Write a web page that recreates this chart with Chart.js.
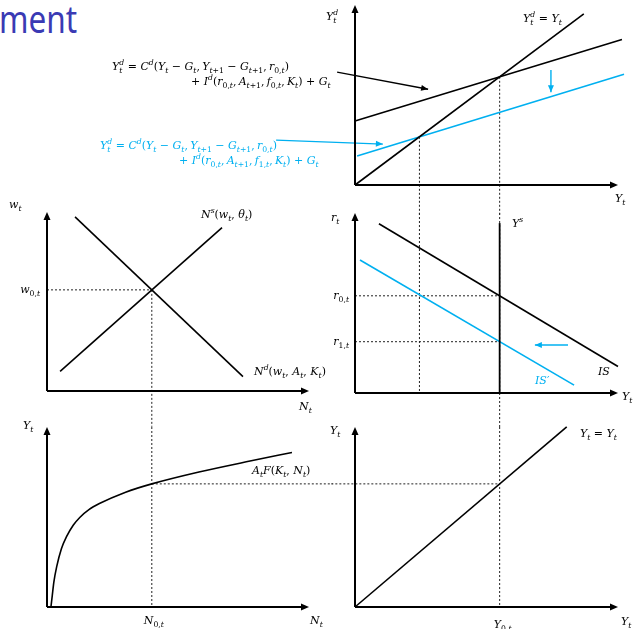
<!DOCTYPE html>
<html lang="en">
<head>
    <meta charset="UTF-8" />
    <title>Goods, labour and output markets</title>
    <script src="https://cdn.jsdelivr.net/npm/chart.js"></script>
    <style>
        body { margin: 0; background: #fff; }
        #board { position: relative; width: 633px; height: 629px; overflow: hidden; }
        #board canvas { position: absolute; left: 0; top: 0; }
        .heading {
            position: absolute; right: 556px; top: -8px;
            font-family: 'Noto Sans', sans-serif; font-size: 38px; color: #3a3ab4;
            white-space: nowrap; transform: scaleX(0.83); transform-origin: right center;
        }
    </style>
</head>
<body>
<div id="board">
    <div class="heading">ment</div>
    <canvas id="goods" width="633" height="629"></canvas>
    <canvas id="labour" width="633" height="629"></canvas>
    <canvas id="rates" width="633" height="629"></canvas>
    <canvas id="production" width="633" height="629"></canvas>
    <canvas id="output" width="633" height="629"></canvas>
</div>
<script>
    // equilibrium levels shared between the panels
    const Y0 = 5.5, Y1 = 2.45;
    const N0 = 4.0, W0 = 5.65;
    const R0 = 5.4, R1 = 2.85;

    // goods market: desired demand against output
    const fortyFive = [[0, 0], [8.7, 8.7]];
    const demandOld = [[0, 3.25], [10.15, 7.4]];
    const demandNew = [[0.08, 1.47], [10.23, 5.63]];
    const demandShift = [[7.45, 5.84], [7.45, 4.72]];
    const pointerOld = [[-0.68, 5.74], [2.78, 4.87]];
    const pointerNew = [[-3.0, 2.28], [1.06, 2.08]];

    // labour market
    const laborSupply = [[0.5, 1.1], [6.68, 9.13]];
    const laborDemand = [[1.07, 9.73], [7.48, 0.8]];

    // IS curves and output supply
    const isOld = [[0.91, 9.4], [10.0, 1.47]];
    const isNew = [[0.19, 7.39], [8.33, 0.44]];
    const outputSupply = [[Y0, 0], [Y0, 9.44]];
    const isShift = [[8.1, 2.67], [6.84, 2.67]];

    // production function A F(K, N)
    const productionCurve = [[0.15, 0], [0.2, 0.5], [0.26, 1.1], [0.37, 1.8], [0.55, 2.6], [0.75, 3.15],
        [1.0, 3.65], [1.25, 4.0], [1.6, 4.35], [2.0, 4.62], [3.0, 5.13], [N0, Y0], [5.8, 6.03],
        [7.75, 6.52], [9.35, 6.9]];

    // 45 degree mapping of output
    const outputLine = [[0, 0], [8.05, 8.05]];

    const W = 633, H = 629;
    const BLACK = '#000000', BLUE = '#00b0f0';
    const SERIF = '"DejaVu Serif", serif';

    const pts = a => a.map(([x, y]) => ({ x, y }));
    const line = (data, color, width, extra) => Object.assign({
        data: pts(data), showLine: true, borderColor: color, borderWidth: width,
        pointRadius: 0, clip: false, fill: false
    }, extra || {});
    const dotted = data => line(data, '#222', 1, { borderDash: [2, 2] });
    const arrow = (data, color) => line(data, color, 1.4, { arrow: true });

    // ---- small math-text renderer: handles _x, _{..}, ^x, ^{..}
    function mathRuns(str) {
        const runs = [];
        let i = 0;
        const group = () => {
            if (str[i] !== '{') return str[i++];
            const end = str.indexOf('}', i);
            const g = str.slice(i + 1, end);
            i = end + 1;
            return g;
        };
        while (i < str.length) {
            const c = str[i];
            if (c === '_' || c === '^') {
                i++;
                runs.push({ text: group(), kind: c === '_' ? 'sub' : 'sup' });
            } else {
                runs.push({ text: c, kind: 'base' });
                i++;
            }
        }
        return runs;
    }

    function fontFor(ch, size) {
        return (/[A-Za-zθ]/.test(ch) ? 'italic ' : '') + size.toFixed(1) + 'px ' + SERIF;
    }

    function layoutMath(ctx, str, size) {
        const items = [];
        let x = 0, scriptStart = 0, last = 'base';
        for (const run of mathRuns(str)) {
            const s = run.kind === 'base' ? size : size * 0.7;
            const dy = run.kind === 'sub' ? size * 0.3 : run.kind === 'sup' ? -size * 0.42 : 0;
            const stacked = run.kind !== 'base' && last !== 'base' && last !== run.kind;
            let gx = stacked ? scriptStart : x;
            if (!stacked) scriptStart = x;
            for (const ch of run.text) {
                const font = fontFor(ch, s);
                ctx.font = font;
                items.push({ ch, x: gx, dy, font });
                gx += ctx.measureText(ch).width;
            }
            x = stacked ? Math.max(x, gx) : gx;
            last = run.kind;
        }
        return { items, width: x };
    }

    function drawMath(ctx, str, x, y, opts) {
        const size = opts.size || 11;
        const lay = layoutMath(ctx, str, size);
        let x0 = x;
        if (opts.align === 'right') x0 = x - lay.width;
        if (opts.align === 'center') x0 = x - lay.width / 2;
        ctx.fillStyle = opts.color || BLACK;
        ctx.textBaseline = 'alphabetic';
        ctx.textAlign = 'left';
        for (const it of lay.items) {
            ctx.font = it.font;
            ctx.fillText(it.ch, x0 + it.x, y + it.dy);
        }
    }

    function arrowHead(ctx, x1, y1, x2, y2, len, half, color) {
        const a = Math.atan2(y2 - y1, x2 - x1);
        ctx.save();
        ctx.fillStyle = color;
        ctx.beginPath();
        ctx.moveTo(x2, y2);
        ctx.lineTo(x2 - len * Math.cos(a) + half * Math.sin(a), y2 - len * Math.sin(a) - half * Math.cos(a));
        ctx.lineTo(x2 - len * Math.cos(a) - half * Math.sin(a), y2 - len * Math.sin(a) + half * Math.cos(a));
        ctx.closePath();
        ctx.fill();
        ctx.restore();
    }

    // axes with arrow tips, arrowheads on pointer datasets, then the labels
    const labelsById = {};
    const diagramPlugin = {
        id: 'diagram',
        afterDatasetsDraw(chart) {
            const ctx = chart.ctx;
            const xs = chart.scales.x, ys = chart.scales.y;
            const ox = xs.getPixelForValue(0), oy = ys.getPixelForValue(0);
            const area = chart.chartArea;
            ctx.save();
            ctx.strokeStyle = BLACK;
            ctx.lineWidth = 2;
            ctx.beginPath();
            ctx.moveTo(ox, oy);
            ctx.lineTo(area.right - 6, oy);
            ctx.moveTo(ox, oy);
            ctx.lineTo(ox, area.top + 6);
            ctx.stroke();
            ctx.restore();
            arrowHead(ctx, ox, oy, area.right, oy, 8, 3.5, BLACK);
            arrowHead(ctx, ox, oy, ox, area.top, 8, 3.5, BLACK);

            chart.data.datasets.forEach((ds, i) => {
                if (!ds.arrow) return;
                const els = chart.getDatasetMeta(i).data;
                const a = els[els.length - 2], b = els[els.length - 1];
                arrowHead(ctx, a.x, a.y, b.x, b.y, 7, 3, ds.borderColor);
            });
        },
        afterDraw(chart) {
            const ctx = chart.ctx;
            const xs = chart.scales.x, ys = chart.scales.y;
            for (const lb of labelsById[chart.canvas.id] || []) {
                let x, y;
                if (lb.val) {
                    x = xs.getPixelForValue(lb.val[0]);
                    y = ys.getPixelForValue(lb.val[1]);
                } else {
                    [x, y] = lb.px;
                }
                const off = lb.off || [0, 0];
                drawMath(ctx, lb.s, x + off[0], y + off[1], lb);
            }
        }
    };

    function panel(id, box, xMax, yMax, datasets, labels) {
        labelsById[id] = labels;
        return new Chart(document.getElementById(id), {
            type: 'scatter',
            data: { datasets },
            options: {
                responsive: false,
                animation: false,
                events: [],
                layout: {
                    autoPadding: false,
                    padding: { left: box[0], right: W - box[1], top: box[2], bottom: H - box[3] }
                },
                elements: { line: { tension: 0 } },
                plugins: { legend: { display: false }, tooltip: { enabled: false } },
                scales: {
                    x: { type: 'linear', min: 0, max: xMax, display: false },
                    y: { type: 'linear', min: 0, max: yMax, display: false }
                }
            },
            plugins: [diagramPlugin]
        });
    }

    const RIGHT = [355, 618], LEFT = [47, 309];
    const TS = '\u2009';   // thin space after commas in the equations

    // goods market
    panel('goods', [...RIGHT, 5, 185], 10, 9.15, [
        line(fortyFive, BLACK, 1.6),
        line(demandOld, BLACK, 1.6),
        line(demandNew, BLUE, 1.6),
        arrow(demandShift, BLUE),
        arrow(pointerOld, BLACK),
        arrow(pointerNew, BLUE),
        dotted([[Y0, Y0], [Y0, -1.5]]),
        dotted([[Y1, Y1], [Y1, -1.5]])
    ], [
        { s: 'Y_t^d', px: [326, 20] },
        { s: 'Y_t^d = Y_t', px: [523, 22] },
        { s: 'Y_t', px: [615, 202] },
        { s: `Y_t^d = C^d(Y_t − G_t,${TS}Y_{t+1} − G_{t+1},${TS}r_{0,t})`, px: [112, 70], size: 11 },
        { s: `+ I^d(r_{0,t},${TS}A_{t+1},${TS}f_{0,t},${TS}K_t) + G_t`, px: [191, 85], size: 11 },
        { s: `Y_t^d = C^d(Y_t − G_t,${TS}Y_{t+1} − G_{t+1},${TS}r_{0,t})`, px: [100, 149], size: 11, color: BLUE },
        { s: `+ I^d(r_{0,t},${TS}A_{t+1},${TS}f_{1,t},${TS}K_t) + G_t`, px: [179, 164], size: 11, color: BLUE }
    ]);

    // labour market
    panel('labour', [...LEFT, 212, 391], 10, 10, [
        line(laborSupply, BLACK, 1.6),
        line(laborDemand, BLACK, 1.6),
        dotted([[0, W0], [N0, W0]]),
        dotted([[N0, W0], [N0, -2.0]])
    ], [
        { s: 'w_t', px: [9, 208] },
        { s: 'N^s(w_t, θ_t)', px: [201, 218] },
        { s: 'N^d(w_t, A_t, K_t)', px: [254, 375] },
        { s: 'N_t', px: [299, 410] },
        { s: 'w_{0,t}', val: [0, W0], off: [-7, 3], align: 'right' }
    ]);

    // IS curves against output supply
    panel('rates', [...RIGHT, 213, 393], 10, 10, [
        line(outputSupply, BLACK, 1.8),
        line(isOld, BLACK, 1.6),
        line(isNew, BLUE, 1.6),
        arrow(isShift, BLUE),
        dotted([[0, R0], [Y0, R0]]),
        dotted([[0, R1], [Y0, R1]]),
        dotted([[Y0, 10], [Y0, -1.9]]),
        dotted([[Y1, 10], [Y1, 0]])
    ], [
        { s: 'r_t', px: [331, 221] },
        { s: 'Y^s', px: [512, 227] },
        { s: 'IS', px: [598, 375] },
        { s: 'IS′', px: [535, 384], color: BLUE },
        { s: 'Y_t', px: [622, 400] },
        { s: 'r_{0,t}', val: [0, R0], off: [-6, 3], align: 'right' },
        { s: 'r_{1,t}', val: [0, R1], off: [-6, 3], align: 'right' }
    ]);

    // production function
    panel('production', [...LEFT, 427, 607], 10, 8.04, [
        Object.assign(line(productionCurve, BLACK, 1.6), { cubicInterpolationMode: 'monotone' }),
        dotted([[N0, 8.04], [N0, 0]]),
        dotted([[N0, Y0], [10.9, Y0]])
    ], [
        { s: 'Y_t', px: [23, 429] },
        { s: 'A_tF(K_t, N_t)', px: [252, 474] },
        { s: 'N_t', px: [310, 624] },
        { s: 'N_{0,t}', val: [N0, 0], off: [2, 17], align: 'center' }
    ]);

    // output mapped onto itself
    panel('output', [...RIGHT, 427, 607], 10, 8.04, [
        line(outputLine, BLACK, 1.6),
        dotted([[Y0, 8.04], [Y0, 0]]),
        dotted([[-0.9, Y0], [Y0, Y0]])
    ], [
        { s: 'Y_t', px: [330, 434] },
        { s: 'Y_t = Y_t', px: [580, 437] },
        { s: 'Y_t', px: [621, 625] },
        { s: 'Y_{0,t}', val: [Y0, 0], off: [3, 21], align: 'center' }
    ]);
</script>
</body>
</html>
